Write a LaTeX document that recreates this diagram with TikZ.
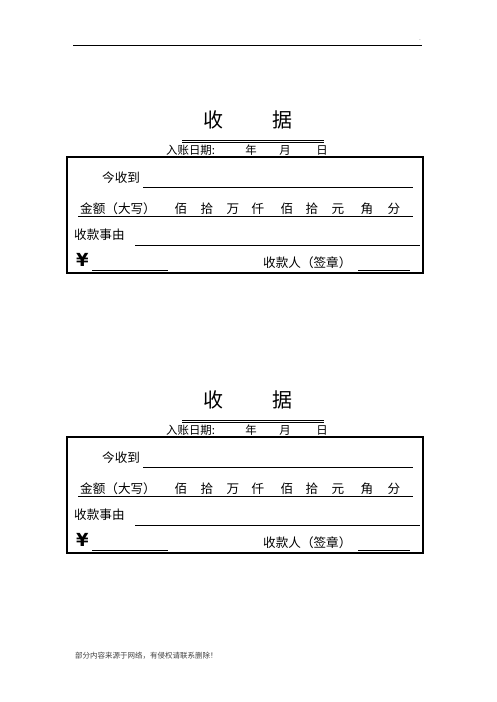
\documentclass[tikz,border=0pt]{standalone}
\usepackage{fontspec}
\setmainfont{Noto Sans CJK SC}
\newfontfamily\yenfont{DejaVu Sans}
\begin{document}
\begin{tikzpicture}[x=1pt,y=-1pt,
    txt/.style={inner sep=0pt,font=\fontsize{12.6}{12.6}\selectfont},
    big/.style={inner sep=0pt,font=\fontsize{20}{20}\selectfont},
    small/.style={inner sep=0pt,font=\fontsize{11.4}{11.4}\selectfont},
    blank/.style={line width=0.8pt}]
  \useasboundingbox (0,0) rectangle (496,702);
  \draw[line width=1pt] (73,45) -- (422,45);
  \node[inner sep=0pt,font=\fontsize{5}{5}\selectfont] (dot) at (420,40) {.};
  \foreach \k/\oy in {1/0,2/280}{
    % title
    \node[big] (shou\k) at (213,120+\oy) {收};
    \node[big] (ju\k) at (282,120+\oy) {据};
    \draw[line width=0.5pt] (182,140+\oy) -- (324,140+\oy);
    \draw[line width=1pt] (182,142.5+\oy) -- (324,142.5+\oy);
    \node[small,anchor=west] (date\k) at (166,150+\oy) {入账日期:};
    \foreach \c/\x in {年/251,月/285,日/322}
      \node[small] (d\k\x) at (\x,150+\oy) {\c};
    % box
    \draw[line width=1.1pt] (67,157+\oy) rectangle (423,273+\oy);
    \node[txt,anchor=west] (recv\k) at (102,178+\oy) {今收到};
    \draw[blank] (143,187+\oy) -- (413,187+\oy);
    \node[txt,anchor=west] (amt\k) at (80,209+\oy) {金额（大写）};
    \foreach \c/\x in {佰/181,拾/207,万/233,仟/258,佰/287,拾/312,元/338,角/367,分/394}
      \node[txt] (u\k\x) at (\x,209+\oy) {\c};
    \draw[blank] (78,216+\oy) -- (413,216+\oy);
    \node[txt,anchor=west] (why\k) at (74,235+\oy) {收款事由};
    \draw[blank] (135,245+\oy) -- (420,245+\oy);
    \node[txt,anchor=west,font=\fontsize{18}{18}\selectfont\yenfont\bfseries] (yen\k) at (76,260+\oy) {¥};
    \draw[blank] (92,270+\oy) -- (168,270+\oy);
    \node[txt,anchor=west] (sign\k) at (263,263+\oy) {收款人（签章）};
    \draw[blank] (358,270+\oy) -- (410,270+\oy);
  }
  \node[inner sep=0pt,anchor=west,text=black!75,font=\fontsize{7.5}{7.5}\selectfont] (note) at (75,656) {部分内容来源于网络，有侵权请联系删除！};
\end{tikzpicture}
\end{document}
